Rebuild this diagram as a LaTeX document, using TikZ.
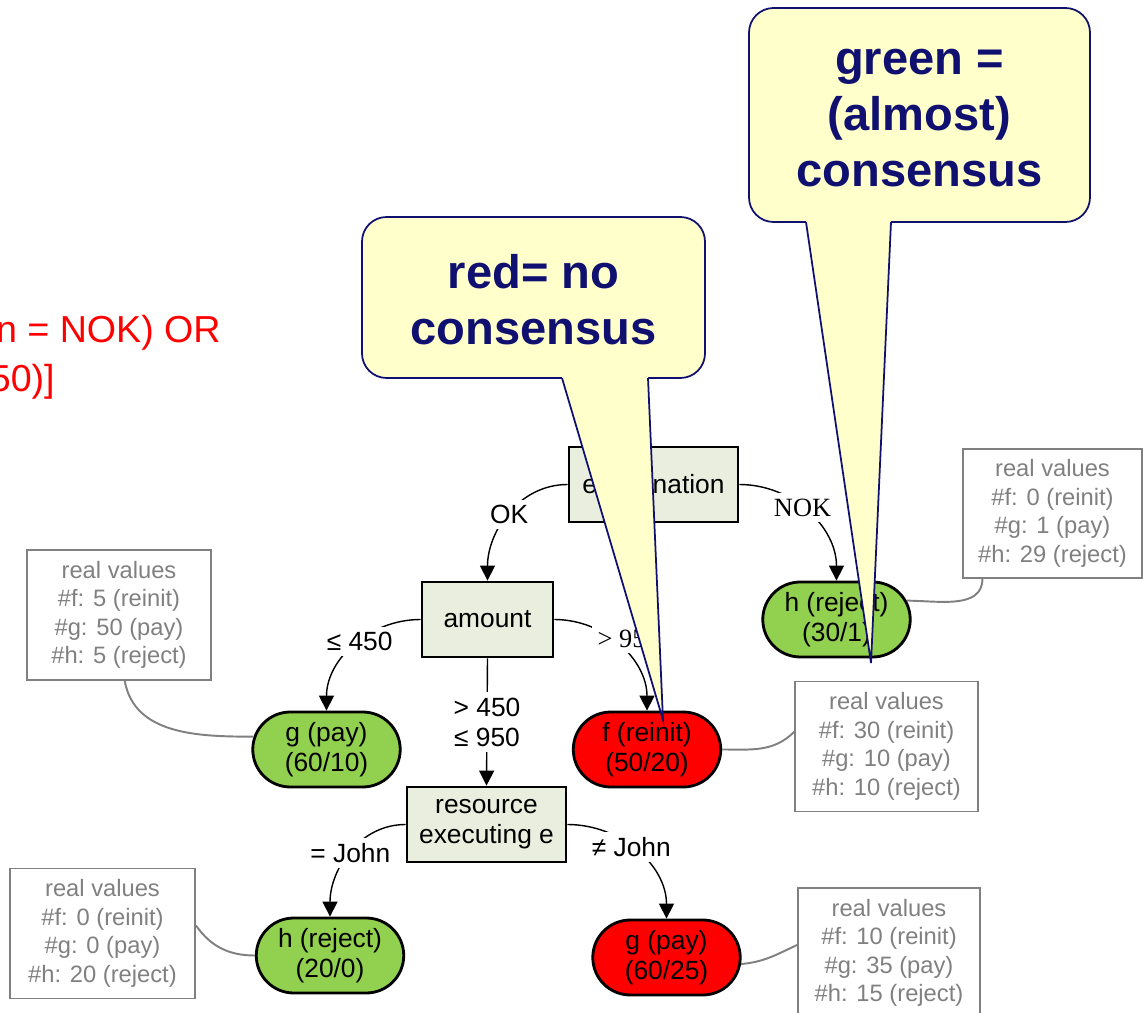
\documentclass[tikz,border=0pt]{standalone}
\usepackage{fontspec}
\setmainfont{Liberation Sans}
\newfontfamily\labserif{Liberation Serif}
\usetikzlibrary{arrows.meta}
\usetikzlibrary{shapes.misc}
\definecolor{BoxFill}{RGB}{234,238,222}
\definecolor{LeafGreen}{RGB}{146,208,80}
\definecolor{LeafRed}{RGB}{255,0,0}
\definecolor{RealGray}{RGB}{128,128,128}
\definecolor{NoteFill}{RGB}{255,255,204}
\definecolor{NoteNavy}{RGB}{16,16,112}
\tikzset{
	dec/.style={draw=black, line width=1.6pt, fill=BoxFill, minimum height=1.5cm,
		inner sep=0pt, align=center, font=\fontsize{15}{17}\selectfont},
	leafok/.style={rounded rectangle, draw=black, line width=1.6pt, fill=LeafGreen,
		minimum width=2.95cm, minimum height=1.5cm, inner sep=0pt, align=center,
		font=\fontsize{15}{17}\selectfont},
	leafbad/.style={leafok, fill=LeafRed},
	realbox/.style={draw=RealGray, line width=1pt, text=RealGray, minimum width=3.66cm,
		minimum height=2.6cm, inner sep=0pt, align=center, font=\fontsize{13.5}{16.2}\selectfont},
	branch/.style={-{Triangle[length=3mm,width=3mm]}, line width=0.8pt},
	lbl/.style={fill=white, inner sep=3pt, align=center, font=\fontsize{15}{17}\selectfont},
	slbl/.style={lbl, font=\labserif\fontsize{15}{17}\selectfont},
	link/.style={draw=RealGray, line width=1.1pt},
	callout/.style={draw=NoteNavy, line width=1pt, fill=NoteFill},
	notetext/.style={text=NoteNavy, align=center, font=\bfseries\fontsize{26.8}{31.7}\selectfont}
}

\begin{document}
\begin{tikzpicture}[x=0.02cm, y=-0.02cm]
	\useasboundingbox (0,0) rectangle (1143,1013);
	% rule text, cut at the left border
	\node[anchor=base east, inner sep=0pt, text=red, font=\fontsize{21.4}{25}\selectfont] (rulea) at (221,343) {n = NOK) OR};
	\node[anchor=base east, inner sep=0pt, text=red, font=\fontsize{21.4}{25}\selectfont] (ruleb) at (55,392) {50)]};

	% decision tree
	\node[dec, minimum width=3.38cm] (exam) at (653.5,484.5) {examination};
	\node[dec, minimum width=2.62cm] (amount) at (487.5,619.5) {amount};
	\node[dec, minimum width=3.18cm] (res) at (486.5,824.5) {resource\\executing e};
	\node[leafok] (h1) at (836.5,619.5) {h (reject)\\(30/1)};
	\node[leafok] (g1) at (326.5,749.5) {g (pay)\\(60/10)};
	\node[leafbad] (f1) at (647,749.5) {f (reinit)\\(50/20)};
	\node[leafok] (h2) at (330,955.5) {h (reject)\\(20/0)};
	\node[leafbad] (g2) at (666.5,957.5) {g (pay)\\(60/25)};

	\draw[branch] (exam.west) to[out=180,in=90] node[lbl] {OK} (amount.north);
	\draw[branch] (exam.east) to[out=0,in=90] node[slbl, pos=0.45] {NOK} (h1.north);
	\draw[branch] (amount.west) to[out=180,in=90] node[lbl, pos=0.45] {≤ 450} (g1.north);
	\draw[branch] (amount.south) -- node[lbl] {> 450\\≤ 950} (res.north);
	\draw[branch] (amount.east) to[out=0,in=90] node[slbl, pos=0.42, xshift=0.34cm] {> 950} (f1.north);
	\draw[branch] (res.west) to[out=180,in=90] node[lbl, pos=0.5] {= John} (h2.north);
	\draw[branch] (res.east) to[out=0,in=90] node[lbl, pos=0.45] {≠ John} (g2.north);

	% real values
	\node[realbox, minimum width=3.58cm, minimum height=2.58cm] (rv1) at (1052.5,513.5) {real values\\\#f: 0 (reinit)\\\#g: 1 (pay)\\\#h: 29 (reject)};
	\node[realbox, minimum width=3.68cm] (rv2) at (119,615) {real values\\\#f: 5 (reinit)\\\#g: 50 (pay)\\\#h: 5 (reject)};
	\node[realbox] (rv3) at (886.5,746.5) {real values\\\#f: 30 (reinit)\\\#g: 10 (pay)\\\#h: 10 (reject)};
	\node[realbox, minimum width=3.7cm] (rv4) at (102.5,933.5) {real values\\\#f: 0 (reinit)\\\#g: 0 (pay)\\\#h: 20 (reject)};
	\node[realbox, minimum width=3.64cm] (rv5) at (889,953) {real values\\\#f: 10 (reinit)\\\#g: 35 (pay)\\\#h: 15 (reject)};

	\draw[link] (rv1.223) to[out=-90,in=0] (h1.15);
	\draw[link] (rv2.-85) to[out=-80,in=180] (g1.170);
	\draw[link] (rv3.171) to[out=225,in=0] (f1.east);
	\draw[link] (rv4.5) to[out=-55,in=180] (h2.west);
	\draw[link] (rv5.175) to[out=205,in=5] (g2.-5);

	% callouts: box, then pointer laid over its lower edge
	\draw[callout, rounded corners=14pt] (362,217) rectangle (705,378);
	\fill[NoteFill] (562,374) -- (562,378) -- (663,720) -- (648,378) -- (648,374) -- cycle;
	\draw[NoteNavy, line width=1pt] (562,378) -- (663,720) -- (648,378);
	\node[notetext] (notered) at (533.5,300) {red= no\\consensus};
	\draw[callout, rounded corners=14pt] (749,8) rectangle (1090,222);
	\fill[NoteFill] (806,218) -- (806,222) -- (871,663) -- (891,222) -- (891,218) -- cycle;
	\draw[NoteNavy, line width=1pt] (806,222) -- (871,663) -- (891,222);
	\node[notetext] (notegreen) at (919.5,118) {green =\\(almost)\\consensus};
\end{tikzpicture}
\end{document}
